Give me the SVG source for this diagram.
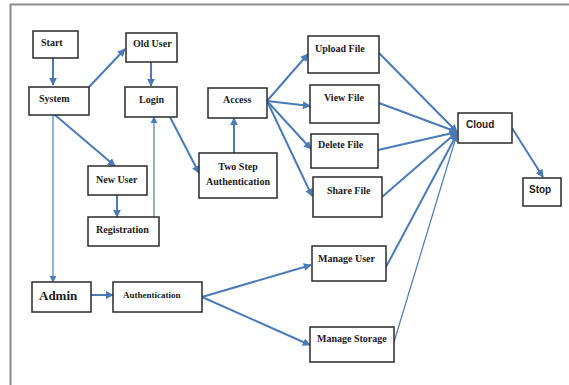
<svg xmlns="http://www.w3.org/2000/svg" width="569" height="385" viewBox="0 0 569 385">
<defs>
<marker id="ah" viewBox="0 0 10 10" refX="9" refY="5" markerWidth="4" markerHeight="4" orient="auto" markerUnits="strokeWidth">
<path d="M0,0 L10,5 L0,10 z" fill="#4a7bb7"/>
</marker>
<marker id="ahs" viewBox="0 0 10 10" refX="9" refY="5" markerWidth="6" markerHeight="6" orient="auto" markerUnits="strokeWidth">
<path d="M0,0 L10,5 L0,10 z" fill="#4a7bb7"/>
</marker>
</defs>
<style>
.box{fill:#fff;stroke:#2a2a2a;stroke-width:1.5}
.t{font-family:"Liberation Serif","Times New Roman",serif;font-weight:bold;font-size:10px;fill:#1a1a1a}
.c{fill:none;stroke:#4a7bb7;stroke-width:2;marker-end:url(#ah)}
.thin{fill:none;stroke:#4a7bb7;stroke-width:1.2;marker-end:url(#ahs)}
.line{fill:none;stroke:#4a7bb7;stroke-width:1.2}
</style>
<rect width="569" height="385" fill="#fff"/>
<path d="M10.5,385 V4.5 H569" fill="none" stroke="#8a8a8a" stroke-width="2"/>

<g id="connectors">
<line class="c" x1="53" y1="58" x2="53" y2="85"/>
<line class="c" x1="89" y1="87" x2="125" y2="49"/>
<line class="c" x1="151" y1="62" x2="151" y2="86"/>
<line class="c" x1="55" y1="115" x2="115" y2="166"/>
<line class="thin" x1="53" y1="115" x2="53" y2="282"/>
<line class="c" x1="117" y1="195" x2="117" y2="217"/>
<line class="thin" x1="154" y1="217" x2="154" y2="117"/>
<line class="c" x1="170" y1="117" x2="199" y2="173"/>
<line class="c" x1="234" y1="153" x2="234" y2="118"/>
<line class="c" x1="267" y1="101" x2="308" y2="54"/>
<line class="c" x1="267" y1="101" x2="310" y2="106"/>
<line class="c" x1="267" y1="101" x2="311" y2="149"/>
<line class="c" x1="267" y1="101" x2="312" y2="196"/>
<line class="c" x1="379" y1="53" x2="457" y2="132"/>
<line class="c" x1="379" y1="103" x2="457" y2="132"/>
<line class="c" x1="378" y1="150" x2="457" y2="132"/>
<line class="c" x1="382" y1="197" x2="457" y2="132"/>
<line class="c" x1="386" y1="267" x2="457" y2="134"/>
<line class="line" x1="394" y1="342" x2="457" y2="134"/>
<line class="c" x1="512" y1="128" x2="543" y2="177"/>
<line class="c" x1="91" y1="295" x2="113" y2="295"/>
<line class="c" x1="202" y1="297" x2="311" y2="265"/>
<line class="c" x1="202" y1="297" x2="310" y2="345"/>
</g>

<g id="start"><rect class="box" x="33" y="31" width="45" height="27"/><text class="t" x="41" y="46">Start</text></g>
<g id="system"><rect class="box" x="29" y="87" width="60" height="28"/><text class="t" x="39" y="102">System</text></g>
<g id="olduser"><rect class="box" x="126" y="33" width="51" height="29"/><text class="t" x="133" y="47">Old User</text></g>
<g id="login"><rect class="box" x="125" y="87" width="52" height="30"/><text class="t" x="139" y="103">Login</text></g>
<g id="access"><rect class="box" x="208" y="88" width="59" height="30"/><text class="t" x="223" y="103">Access</text></g>
<g id="upload"><rect class="box" x="308" y="36" width="71" height="37"/><text class="t" x="315" y="52">Upload File</text></g>
<g id="view"><rect class="box" x="310" y="85" width="69" height="38"/><text class="t" x="324" y="101">View File</text></g>
<g id="delete"><rect class="box" x="311" y="134" width="67" height="34"/><text class="t" x="318" y="148">Delete File</text></g>
<g id="share"><rect class="box" x="313" y="177" width="69" height="40"/><text class="t" x="327" y="194">Share File</text></g>
<g id="twostep"><rect class="box" x="199" y="153" width="78" height="45"/><text class="t" x="238" y="170" text-anchor="middle">Two Step</text><text class="t" x="238" y="185" text-anchor="middle">Authentication</text></g>
<g id="cloud"><rect class="box" x="458" y="113" width="54" height="30"/><text class="t" x="466" y="128" font-family="Liberation Sans,Arial,sans-serif" style="font-family:'Liberation Sans',Arial,sans-serif">Cloud</text></g>
<g id="stop"><rect class="box" x="523" y="178" width="38" height="28"/><text class="t" x="529" y="193" style="font-family:'Liberation Sans',Arial,sans-serif">Stop</text></g>
<g id="newuser"><rect class="box" x="88" y="166" width="59" height="29"/><text class="t" x="96" y="183">New User</text></g>
<g id="registration"><rect class="box" x="88" y="217" width="71" height="29"/><text class="t" x="96" y="233">Registration</text></g>
<g id="admin"><rect class="box" x="32" y="282" width="59" height="30"/><text class="t" x="39" y="300" style="font-size:13px">Admin</text></g>
<g id="authentication"><rect class="box" x="113" y="282" width="89" height="30"/><text class="t" x="123" y="298" style="font-size:9px">Authentication</text></g>
<g id="manageuser"><rect class="box" x="312" y="246" width="74" height="35"/><text class="t" x="318" y="262">Manage User</text></g>
<g id="managestorage"><rect class="box" x="310" y="327" width="84" height="35"/><text class="t" x="317" y="342">Manage Storage</text></g>
</svg>
